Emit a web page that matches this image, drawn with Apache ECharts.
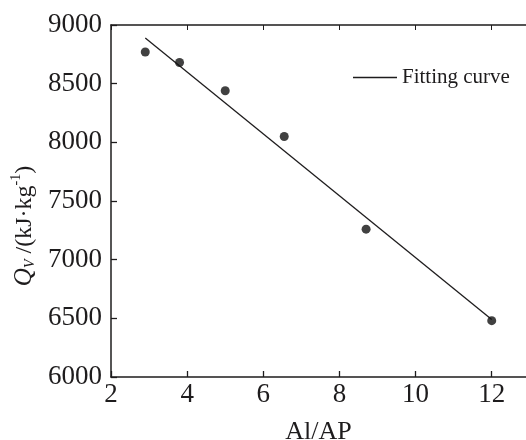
<!DOCTYPE html>
<html>
<head>
<meta charset="utf-8">
<script src="https://cdn.jsdelivr.net/npm/echarts@6/dist/echarts.min.js"></script>
<style>html,body{margin:0;padding:0;background:#fff}#c{width:526px;height:440px}</style>
</head>
<body>
<div id="c"></div>
<script>
var alapX = [2.9, 3.8, 5.0, 6.55, 8.7, 12.0];
var qvY = [8770, 8680, 8440, 8050, 7260, 6480];
var fitX = [2.9, 12.0];
var fitY = [8890, 6490];
var xTicks = [2, 4, 6, 8, 10, 12];
var yTicks = [6000, 6500, 7000, 7500, 8000, 8500, 9000];

var FONT = '"Liberation Serif", "Times New Roman", serif';
var INK = '#1e1c1d';
var chart = echarts.init(document.getElementById('c'), null, {renderer: 'canvas'});
var pts = alapX.map(function (x, i) { return [x, qvY[i]]; });
var fit = fitX.map(function (x, i) { return [x, fitY[i]]; });

chart.setOption({
  animation: false,
  backgroundColor: '#fff',
  grid: {left: 111, right: 0, top: 25, bottom: 63, containLabel: false, outerBoundsMode: 'none'},
  legend: {
    left: 348, top: 62,
    data: [{name: 'Fitting curve', icon: 'rect'}],
    itemWidth: 44, itemHeight: 1.4, itemGap: 5,
    textStyle: {fontFamily: FONT, fontSize: 21, color: INK}
  },
  xAxis: [{
    type: 'value', min: 2, max: 12.9, interval: 2,
    name: 'Al/AP', nameLocation: 'middle', nameGap: 42,
    nameTextStyle: {fontFamily: FONT, fontSize: 26, color: INK},
    axisLine: {show: true, onZero: false, lineStyle: {color: INK, width: 1.5}},
    axisTick: {show: true, inside: true, length: 6, lineStyle: {color: INK, width: 1.3}},
    axisLabel: {fontFamily: FONT, fontSize: 27, color: INK, margin: 4, showMaxLabel: false,
      formatter: function (v) { return xTicks.indexOf(v) >= 0 ? String(v) : ''; }},
    splitLine: {show: false}
  }, {
    type: 'value', position: 'top', min: 2, max: 12.9, interval: 2,
    axisLine: {show: true, onZero: false, lineStyle: {color: INK, width: 1.5}},
    axisTick: {show: true, inside: true, length: 5, lineStyle: {color: INK, width: 1}},
    axisLabel: {show: false},
    splitLine: {show: false}
  }],
  yAxis: {
    type: 'value', min: 6000, max: 9000, interval: 500,
    name: '{q|Q}{sub|V}{n| /(kJ·kg}{sup|-1}{n|)}',
    nameLocation: 'middle', nameGap: 74, nameRotate: 90,
    nameTextStyle: {
      fontFamily: FONT, fontSize: 23, color: INK, padding: [0, 0, 0, -50],
      rich: {
        q: {fontFamily: FONT, fontSize: 25, fontStyle: 'italic', color: INK, verticalAlign: 'bottom', lineHeight: 28},
        sub: {fontFamily: FONT, fontSize: 14, fontStyle: 'italic', color: INK, verticalAlign: 'bottom', lineHeight: 24},
        n: {fontFamily: FONT, fontSize: 24, color: INK, verticalAlign: 'bottom', lineHeight: 28},
        sup: {fontFamily: FONT, fontSize: 14, color: INK, verticalAlign: 'top', lineHeight: 28}
      }
    },
    axisLine: {show: true, lineStyle: {color: INK, width: 1.5}},
    axisTick: {show: true, inside: true, length: 6, lineStyle: {color: INK, width: 1.3}},
    axisLabel: {fontFamily: FONT, fontSize: 27, color: INK, margin: 9,
      formatter: function (v) { return yTicks.indexOf(v) >= 0 ? String(v) : ''; }},
    splitLine: {show: false}
  },
  series: [{
    name: 'Data', type: 'scatter', data: pts, symbol: 'circle', symbolSize: 9,
    itemStyle: {color: '#111'}, z: 3
  }, {
    name: 'Fitting curve', type: 'line', data: fit, symbol: 'none',
    lineStyle: {color: INK, width: 1.3}, itemStyle: {color: INK}, z: 2
  }]
});
</script>
</body>
</html>
